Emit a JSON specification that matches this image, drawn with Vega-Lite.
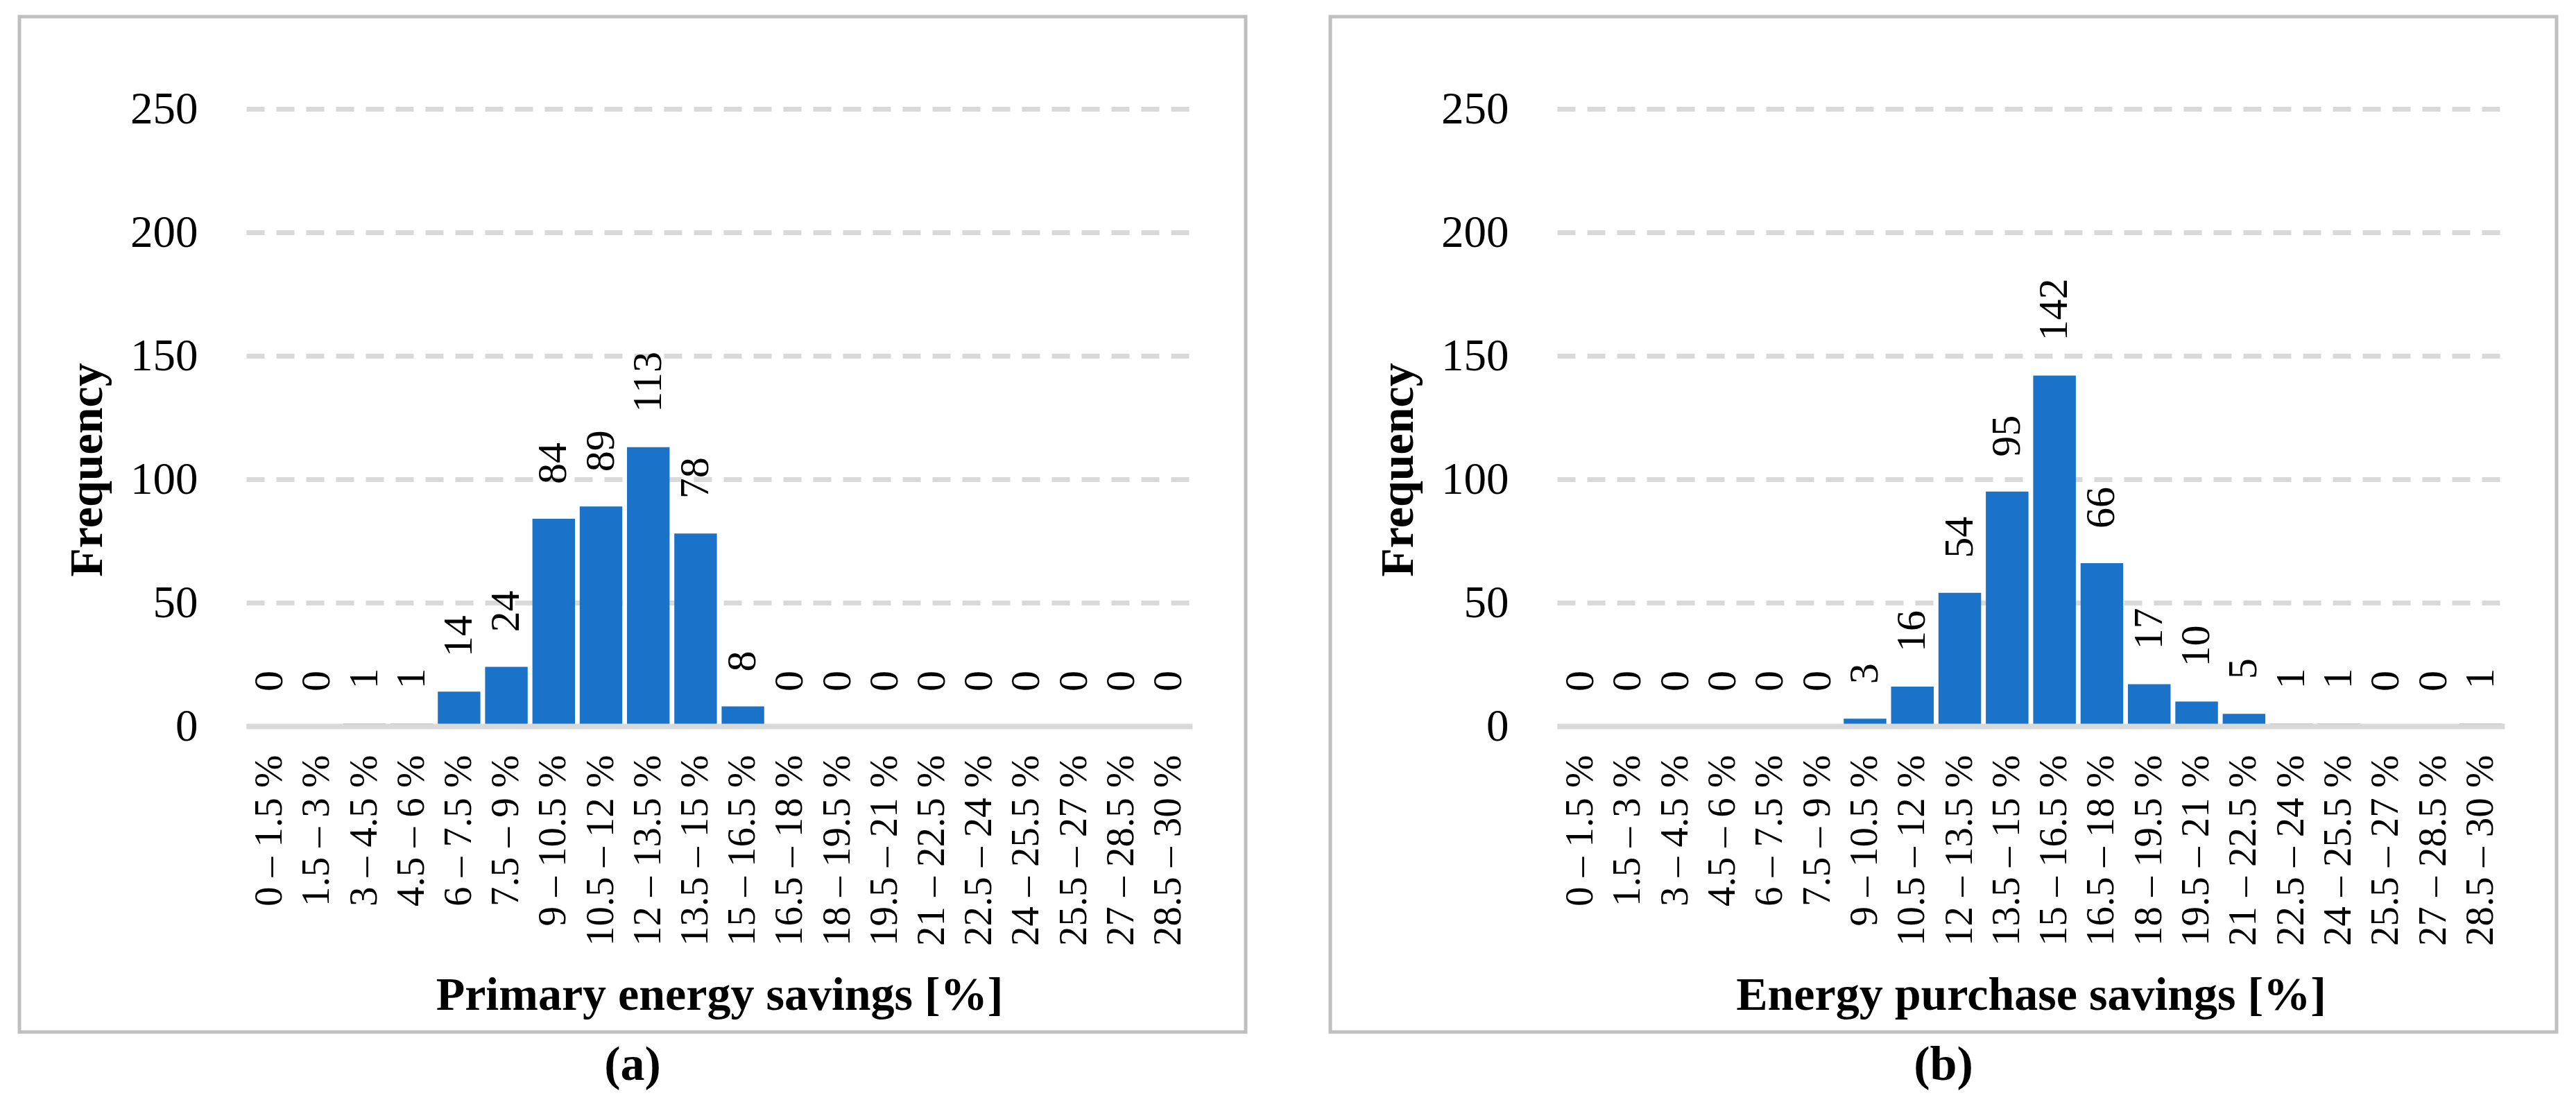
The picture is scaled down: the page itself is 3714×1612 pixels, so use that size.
{
  "$schema": "https://vega.github.io/schema/vega-lite/v6.json",
  "autosize": {"type": "pad"},
  "padding": {"left": 25, "top": 21, "right": 0, "bottom": 0},
  "background": "white",
  "spacing": 116,
  "config": {
    "font": "Liberation Serif",
    "view": {"stroke": "#BFBFBF", "strokeWidth": 5},
    "axis": {"labelFont": "Liberation Serif", "titleFont": "Liberation Serif", "labelColor": "#000000", "titleColor": "#000000"},
    "text": {"font": "Liberation Serif"},
    "title": {"font": "Liberation Serif", "color": "#000000"}
  },
  "datasets": {
    "primary": [
      {"bin": "0 – 1.5 %", "count": 0}, {"bin": "1.5 – 3 %", "count": 0}, {"bin": "3 – 4.5 %", "count": 1}, {"bin": "4.5 – 6 %", "count": 1},
      {"bin": "6 – 7.5 %", "count": 14}, {"bin": "7.5 – 9 %", "count": 24}, {"bin": "9 – 10.5 %", "count": 84}, {"bin": "10.5 – 12 %", "count": 89},
      {"bin": "12 – 13.5 %", "count": 113}, {"bin": "13.5 – 15 %", "count": 78}, {"bin": "15 – 16.5 %", "count": 8}, {"bin": "16.5 – 18 %", "count": 0},
      {"bin": "18 – 19.5 %", "count": 0}, {"bin": "19.5 – 21 %", "count": 0}, {"bin": "21 – 22.5 %", "count": 0}, {"bin": "22.5 – 24 %", "count": 0},
      {"bin": "24 – 25.5 %", "count": 0}, {"bin": "25.5 – 27 %", "count": 0}, {"bin": "27 – 28.5 %", "count": 0}, {"bin": "28.5 – 30 %", "count": 0}
    ],
    "purchase": [
      {"bin": "0 – 1.5 %", "count": 0}, {"bin": "1.5 – 3 %", "count": 0}, {"bin": "3 – 4.5 %", "count": 0}, {"bin": "4.5 – 6 %", "count": 0},
      {"bin": "6 – 7.5 %", "count": 0}, {"bin": "7.5 – 9 %", "count": 0}, {"bin": "9 – 10.5 %", "count": 3}, {"bin": "10.5 – 12 %", "count": 16},
      {"bin": "12 – 13.5 %", "count": 54}, {"bin": "13.5 – 15 %", "count": 95}, {"bin": "15 – 16.5 %", "count": 142}, {"bin": "16.5 – 18 %", "count": 66},
      {"bin": "18 – 19.5 %", "count": 17}, {"bin": "19.5 – 21 %", "count": 10}, {"bin": "21 – 22.5 %", "count": 5}, {"bin": "22.5 – 24 %", "count": 1},
      {"bin": "24 – 25.5 %", "count": 1}, {"bin": "25.5 – 27 %", "count": 0}, {"bin": "27 – 28.5 %", "count": 0}, {"bin": "28.5 – 30 %", "count": 1}
    ]
  },
  "hconcat": [
    {
      "width": 1768,
      "height": 1464,
      "data": {"name": "primary"},
      "title": {"text": "(a)", "orient": "bottom", "anchor": "middle", "font": "Liberation Serif", "fontSize": 70, "fontWeight": "bold", "baseline": "top", "offset": 14},
      "encoding": {
        "x": {
          "field": "bin", "type": "nominal", "sort": null,
          "scale": {"range": [327, 1691], "paddingInner": 0.1, "paddingOuter": 0.05},
          "axis": {
            "title": "Primary energy savings [%]", "offset": -441, "labelAngle": 270, "labelFont": "Liberation Serif", "labelFontSize": 57,
            "labelLimit": 0, "labelPadding": 41, "ticks": false, "domainColor": "#D9D9D9", "domainWidth": 8, "zindex": 1,
            "grid": false, "labelOverlap": false, "titleFont": "Liberation Serif", "titleFontSize": 68, "titleFontWeight": "bold",
            "titleY": 408, "titleBaseline": "alphabetic"
          }
        },
        "y": {
          "field": "count", "type": "quantitative",
          "scale": {"domain": [0, 250], "range": [1023, 133], "nice": false, "zero": true},
          "axis": {
            "title": "Frequency", "offset": -327, "values": [0, 50, 100, 150, 200, 250], "grid": true,
            "gridDash": [26, 17], "gridColor": "#D9D9D9", "gridWidth": 7, "domain": false, "ticks": false,
            "labelFont": "Liberation Serif", "labelPadding": 70, "labelFontSize": 65, "titleFont": "Liberation Serif", "titleFontSize": 68, "titleFontWeight": "bold",
            "titleX": -229, "titleY": 653, "titleAngle": 270, "titleAlign": "center", "titleBaseline": "middle"
          }
        }
      },
      "layer": [
        {"mark": {"type": "bar", "color": "#1A73C8"}},
        {"mark": {"type": "text", "font": "Liberation Serif", "angle": 270, "align": "left", "baseline": "middle", "dx": 50, "fontSize": 60, "color": "#000000"},
         "encoding": {"text": {"field": "count", "type": "quantitative"}}}
      ]
    },
    {
      "width": 1768,
      "height": 1464,
      "data": {"name": "purchase"},
      "title": {"text": "(b)", "orient": "bottom", "anchor": "middle", "font": "Liberation Serif", "fontSize": 70, "fontWeight": "bold", "baseline": "top", "offset": 14},
      "encoding": {
        "x": {
          "field": "bin", "type": "nominal", "sort": null,
          "scale": {"range": [327, 1693], "paddingInner": 0.1, "paddingOuter": 0.05},
          "axis": {
            "title": "Energy purchase savings [%]", "offset": -441, "labelAngle": 270, "labelFont": "Liberation Serif", "labelFontSize": 57,
            "labelLimit": 0, "labelPadding": 41, "ticks": false, "domainColor": "#D9D9D9", "domainWidth": 8, "zindex": 1,
            "grid": false, "labelOverlap": false, "titleFont": "Liberation Serif", "titleFontSize": 68, "titleFontWeight": "bold",
            "titleY": 408, "titleBaseline": "alphabetic"
          }
        },
        "y": {
          "field": "count", "type": "quantitative",
          "scale": {"domain": [0, 250], "range": [1023, 133], "nice": false, "zero": true},
          "axis": {
            "title": "Frequency", "offset": -327, "values": [0, 50, 100, 150, 200, 250], "grid": true,
            "gridDash": [26, 17], "gridColor": "#D9D9D9", "gridWidth": 7, "domain": false, "ticks": false,
            "labelFont": "Liberation Serif", "labelPadding": 70, "labelFontSize": 65, "titleFont": "Liberation Serif", "titleFontSize": 68, "titleFontWeight": "bold",
            "titleX": -229, "titleY": 653, "titleAngle": 270, "titleAlign": "center", "titleBaseline": "middle"
          }
        }
      },
      "layer": [
        {"mark": {"type": "bar", "color": "#1A73C8"}},
        {"mark": {"type": "text", "font": "Liberation Serif", "angle": 270, "align": "left", "baseline": "middle", "dx": 50, "fontSize": 60, "color": "#000000"},
         "encoding": {"text": {"field": "count", "type": "quantitative"}}}
      ]
    }
  ]
}
